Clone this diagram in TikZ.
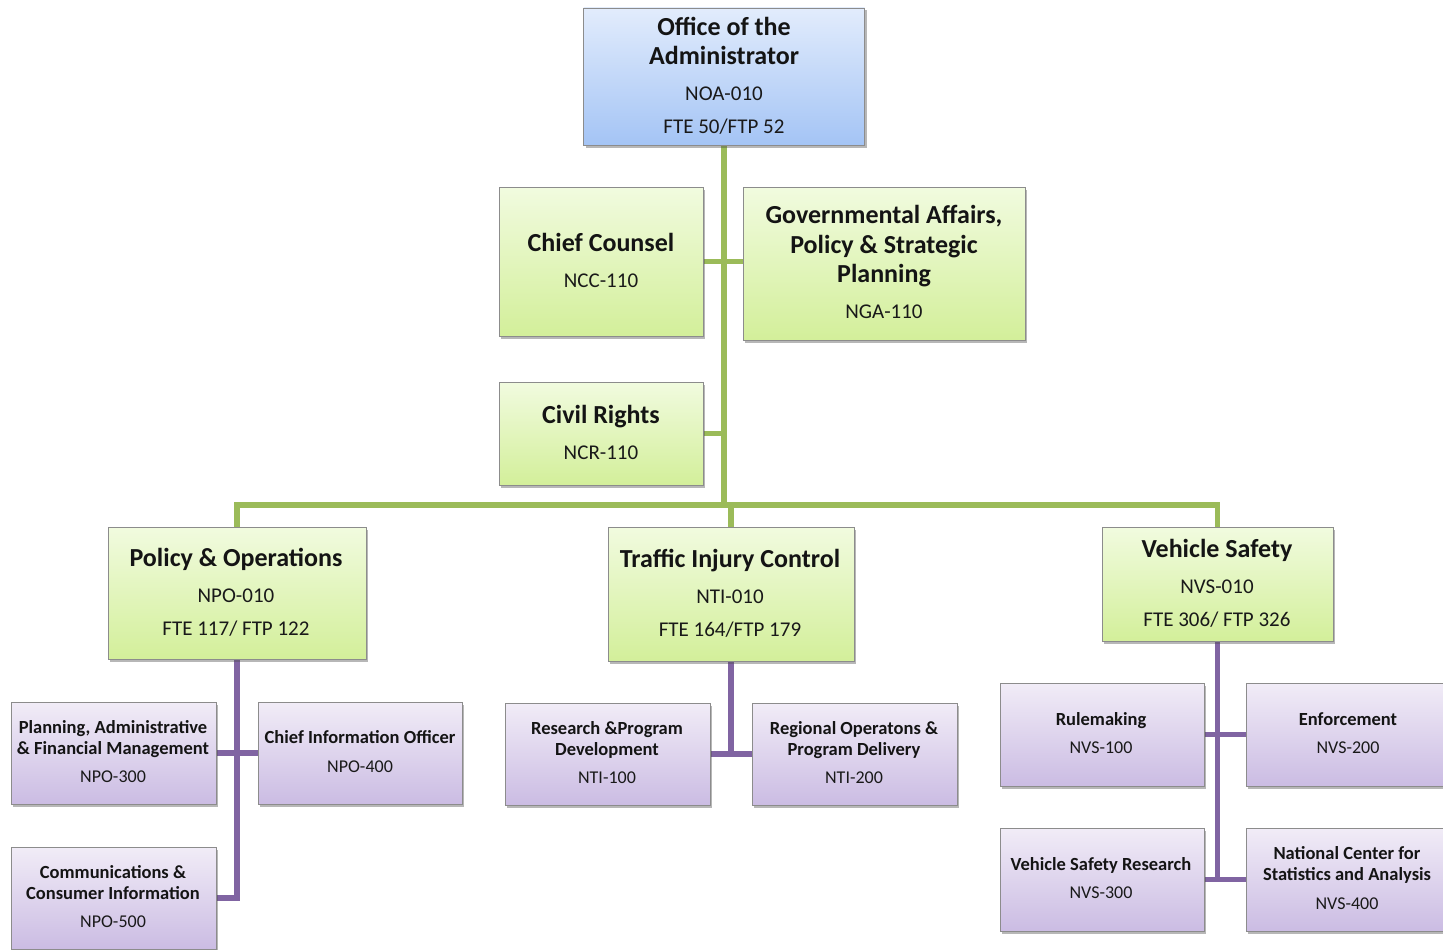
\documentclass[tikz,border=0pt]{standalone}
\usepackage{fontspec}
\setmainfont{Carlito}
\usetikzlibrary{shadows,backgrounds}
\definecolor{gline}{HTML}{9BBB59}
\definecolor{pline}{HTML}{8064A2}
\definecolor{gtop}{HTML}{F1FBDF}
\definecolor{gbot}{HTML}{D3EF9A}
\definecolor{ptop}{HTML}{F1ECF7}
\definecolor{pbot}{HTML}{CBBCE3}
\definecolor{btop}{HTML}{E2ECFC}
\definecolor{bbot}{HTML}{A4C4F5}
\definecolor{bord}{HTML}{8C8C8C}
\tikzset{
  boxbase/.style={draw=bord, line width=0.8pt, inner sep=0pt, rectangle,
    drop shadow={shadow xshift=2pt, shadow yshift=-2.5pt, opacity=0.4, fill=black!70}},
  gbox/.style={boxbase, top color=gtop, bottom color=gbot},
  pbox/.style={boxbase, top color=ptop, bottom color=pbot},
  bbox/.style={boxbase, top color=btop, bottom color=bbot},
  gl/.style={draw=gline, line width=5.5pt},
  pl/.style={draw=pline, line width=5.5pt},
  bt/.style={anchor=base, inner sep=0pt, font=\bfseries\fontsize{26}{30}\selectfont, text=black!92},
  rt/.style={anchor=base, inner sep=0pt, font=\fontsize{21}{25}\selectfont, text=black!90},
  sbt/.style={anchor=base, inner sep=0pt, font=\bfseries\fontsize{18.5}{22}\selectfont, text=black!92},
  srt/.style={anchor=base, inner sep=0pt, font=\fontsize{18}{22}\selectfont, text=black!90}
}
\begin{document}
\begin{tikzpicture}[x=1pt, y=-1pt]
\useasboundingbox (0,0) rectangle (1443,950);
\coordinate (bus) at (724,505);

% boxes
\node[bbox, minimum width=281pt, minimum height=137pt] (oa) at (724,76.5) {};
\node[gbox, minimum width=204pt, minimum height=149pt] (cc) at (601,261.5) {};
\node[gbox, minimum width=282pt, minimum height=153pt] (ga) at (884,263.5) {};
\node[gbox, minimum width=204pt, minimum height=103pt] (cr) at (601,433.5) {};
\node[gbox, minimum width=258pt, minimum height=132pt] (po) at (237,593) {};
\node[gbox, minimum width=246pt, minimum height=134pt] (ti) at (731,594) {};
\node[gbox, minimum width=231pt, minimum height=114pt] (vs) at (1217.5,584) {};
\node[pbox, minimum width=205pt, minimum height=102pt] (pa) at (113.5,753) {};
\node[pbox, minimum width=204pt, minimum height=102pt] (ci) at (360,753) {};
\node[pbox, minimum width=205pt, minimum height=102pt] (co) at (113.5,898) {};
\node[pbox, minimum width=205pt, minimum height=102pt] (rp) at (607.5,754) {};
\node[pbox, minimum width=205pt, minimum height=102pt] (ro) at (854.5,754) {};
\node[pbox, minimum width=204pt, minimum height=103pt] (ru) at (1102,734.5) {};
\node[pbox, minimum width=204pt, minimum height=103pt] (en) at (1348,734.5) {};
\node[pbox, minimum width=204pt, minimum height=103pt] (vr) at (1102,879.5) {};
\node[pbox, minimum width=204pt, minimum height=103pt] (nc) at (1348,879.5) {};

% connectors behind the boxes
\begin{pgfonlayer}{background}
\draw[gl] (oa.south) -- (oa.south |- bus);
\draw[gl] (cc.east) -- (cc.east -| ga.west);
\draw[gl] (cr.east) -- (cr.east -| oa.south);
\draw[gl] (po.north) |- (bus) -| (vs.north);
\draw[gl] (ti.north) -- (ti.north |- bus);
\draw[pl] (po.south) |- (co.east);
\draw[pl] (pa.east) -- (ci.west);
\draw[pl] (ti.south) -- (ti.south |- rp.east);
\draw[pl] (rp.east) -- (ro.west);
\draw[pl] (vs.south) -- (vs.south |- vr.east);
\draw[pl] (ru.east) -- (en.west);
\draw[pl] (vr.east) -- (nc.west);
\end{pgfonlayer}

% texts
\node[bt] (oa1) at (724,35.5) {Office of the};
\node[bt] (oa2) at (724,64.5) {Administrator};
\node[rt] (oa3) at (724,100) {NOA-010};
\node[rt] (oa4) at (724,133) {FTE 50/FTP 52};

\node[bt] (cc1) at (601,251.5) {Chief Counsel};
\node[rt] (cc2) at (601,287) {NCC-110};

\node[bt] (ga1) at (884,223.5) {Governmental Affairs,};
\node[bt] (ga2) at (884,253.5) {Policy \& Strategic};
\node[bt] (ga3) at (884,282.5) {Planning};
\node[rt] (ga4) at (884,318) {NGA-110};

\node[bt] (cr1) at (601,423.5) {Civil Rights};
\node[rt] (cr2) at (601,459) {NCR-110};

\node[bt] (po1) at (236,566.5) {Policy \& Operations};
\node[rt] (po2) at (236,602) {NPO-010};
\node[rt] (po3) at (236,635) {FTE 117/ FTP 122};

\node[bt] (ti1) at (730,567.5) {Traffic Injury Control};
\node[rt] (ti2) at (730,603) {NTI-010};
\node[rt] (ti3) at (730,636) {FTE 164/FTP 179};

\node[bt] (vs1) at (1217,557.5) {Vehicle Safety};
\node[rt] (vs2) at (1217,593) {NVS-010};
\node[rt] (vs3) at (1217,626) {FTE 306/ FTP 326};

\node[sbt] (pa1) at (113,733) {Planning, Administrative};
\node[sbt] (pa2) at (113,754) {\& Financial Management};
\node[srt] (pa3) at (113,782) {NPO-300};

\node[sbt] (ci1) at (360,743) {Chief Information Officer};
\node[srt] (ci2) at (360,772) {NPO-400};

\node[sbt] (co1) at (113,878) {Communications \&};
\node[sbt] (co2) at (113,899) {Consumer Information};
\node[srt] (co3) at (113,927) {NPO-500};

\node[sbt] (rp1) at (607,734) {Research \&Program};
\node[sbt] (rp2) at (607,755) {Development};
\node[srt] (rp3) at (607,783) {NTI-100};

\node[sbt] (ro1) at (854,734) {Regional Operatons \&};
\node[sbt] (ro2) at (854,755) {Program Delivery};
\node[srt] (ro3) at (854,783) {NTI-200};

\node[sbt] (ru1) at (1101,725) {Rulemaking};
\node[srt] (ru2) at (1101,753) {NVS-100};

\node[sbt] (en1) at (1348,725) {Enforcement};
\node[srt] (en2) at (1348,753) {NVS-200};

\node[sbt] (vr1) at (1101,870) {Vehicle Safety Research};
\node[srt] (vr2) at (1101,898) {NVS-300};

\node[sbt] (nc1) at (1347,859) {National Center for};
\node[sbt] (nc2) at (1347,880) {Statistics and Analysis};
\node[srt] (nc3) at (1347,909) {NVS-400};
\end{tikzpicture}
\end{document}
